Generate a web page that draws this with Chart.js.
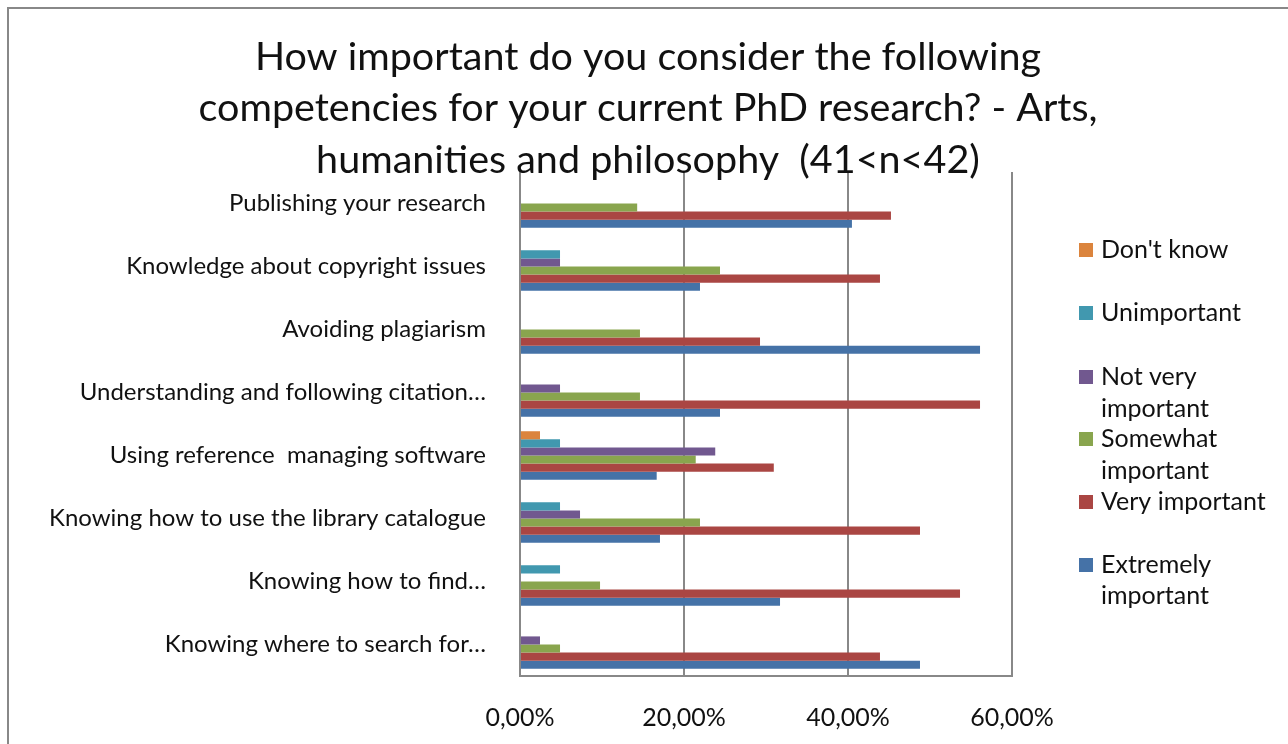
<!DOCTYPE html>
<html>
<head>
<meta charset="utf-8">
<script src="https://cdn.jsdelivr.net/npm/chart.js@4"></script>
<style>
  html, body { margin: 0; padding: 0; background: #fff; }
  #wrap { width: 1288px; height: 744px; }
</style>
</head>
<body>
<div id="wrap"><canvas id="chart" width="1288" height="744"></canvas></div>
<script>
const categories = [
  "Publishing your research",
  "Knowledge about copyright issues",
  "Avoiding plagiarism",
  "Understanding and following citation…",
  "Using reference  managing software",
  "Knowing how to use the library catalogue",
  "Knowing how to find…",
  "Knowing where to search for…",
];
const dontKnow    = [0, 0, 0, 0, 2.44, 0, 0, 0];
const unimportant = [0, 4.88, 0, 0, 4.88, 4.88, 4.88, 0];
const notVery     = [0, 4.88, 0, 4.88, 23.81, 7.32, 0, 2.44];
const somewhat    = [14.29, 24.39, 14.63, 14.63, 21.43, 21.95, 9.76, 4.88];
const veryImp     = [45.24, 43.90, 29.27, 56.10, 30.95, 48.78, 53.66, 43.90];
const extremely   = [40.48, 21.95, 56.10, 24.39, 16.67, 17.07, 31.71, 48.78];

const seriesLabels = [
  ["Don't know"],
  ["Unimportant"],
  ["Not very", "important"],
  ["Somewhat", "important"],
  ["Very important"],
  ["Extremely", "important"],
];
const colors = ["#DB843D", "#4198AF", "#71588F", "#89A54E", "#AA4643", "#4572A7"];
const titleLines = [
  "How important do you consider the following",
  "competencies for your current PhD research? - Arts,",
  "humanities and philosophy  (41<n<42)",
];
const xTicks = [0, 20, 40, 60];

const FONT = "Lato, 'Open Sans', sans-serif";

// frame + title + wrapped legend, drawn by hand like the Excel export
const decor = {
  id: "decor",
  beforeDraw(chart) {
    const ctx = chart.ctx;
    ctx.save();
    ctx.strokeStyle = "#888888";
    ctx.lineWidth = 2;
    ctx.strokeRect(8, 8, 1400, 900);
    ctx.restore();
  },
  afterDraw(chart) {
    const ctx = chart.ctx;
    ctx.save();
    ctx.fillStyle = "#111";
    ctx.textAlign = "center";
    ctx.textBaseline = "middle";
    ctx.font = "39.5px " + FONT;
    const ty = [57, 108, 160];
    titleLines.forEach((t, i) => ctx.fillText(t, 648, ty[i]));

    // legend
    const rows = [[250], [313], [377, 409], [439, 471], [502], [565, 596]];
    ctx.textAlign = "left";
    ctx.font = "25px " + FONT;
    chart.data.datasets.forEach((ds, i) => {
      ctx.fillStyle = ds.backgroundColor;
      ctx.fillRect(1079, rows[i][0] - 7, 14, 14);
      ctx.fillStyle = "#111";
      seriesLabels[i].forEach((line, j) => ctx.fillText(line, 1101, rows[i][j]));
    });
    ctx.restore();
  },
};

const series = [dontKnow, unimportant, notVery, somewhat, veryImp, extremely];

new Chart(document.getElementById("chart"), {
  type: "bar",
  data: {
    labels: categories,
    datasets: series.map((d, i) => ({
      label: seriesLabels[i].join(" "),
      data: d,
      backgroundColor: colors[i],
      borderWidth: 0,
      categoryPercentage: 0.77,
      barPercentage: 1.0,
    })),
  },
  options: {
    indexAxis: "y",
    responsive: false,
    animation: false,
    layout: { padding: { top: 172, right: 276, left: 0, bottom: 0 } },
    plugins: {
      legend: { display: false },
      tooltip: { enabled: false },
    },
    scales: {
      x: {
        min: 0,
        max: 60,
        afterFit: (s) => { s.height = 68; },
        afterBuildTicks: (s) => { s.ticks = xTicks.map((v) => ({ value: v })); },
        ticks: {
          padding: 27,
          color: "#111",
          font: { family: FONT, size: 25 },
          callback: (v) => v.toFixed(2).replace(".", ",") + "%",
        },
        grid: { color: "#888888", lineWidth: 2, drawTicks: false },
        border: { color: "#888888", width: 2 },
      },
      y: {
        afterFit: (s) => { s.width = 520; },
        ticks: {
          padding: 34,
          color: "#111",
          font: { family: FONT, size: 24 },
          autoSkip: false,
        },
        grid: { display: false, drawTicks: false },
        border: { color: "#888888", width: 2 },
      },
    },
  },
  plugins: [decor],
});
</script>
</body>
</html>
